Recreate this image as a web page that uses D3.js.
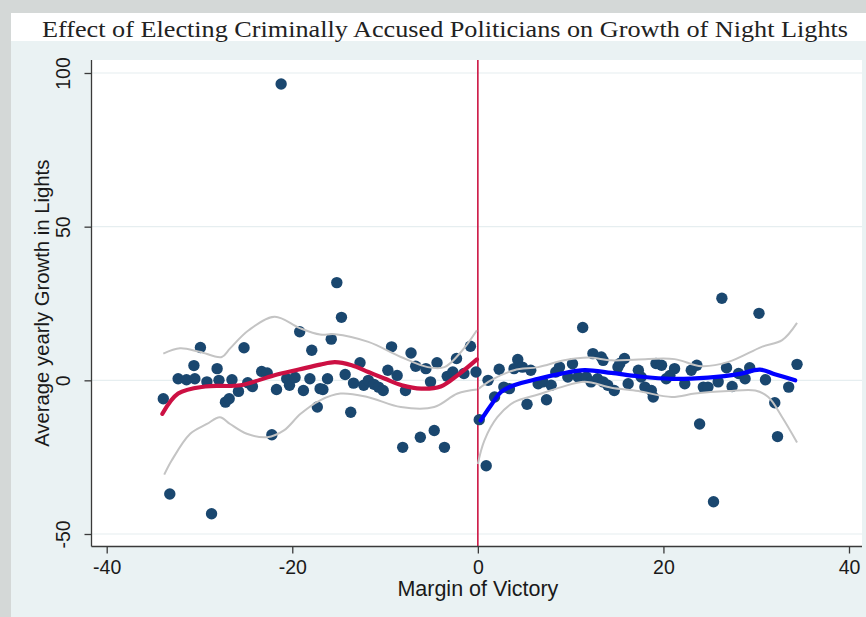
<!DOCTYPE html>
<html>
<head>
<meta charset="utf-8">
<script src="https://cdn.jsdelivr.net/npm/d3@7"></script>
<style>
  html, body { margin: 0; padding: 0; background: #d4d8d7; }
  svg { display: block; }
</style>
</head>
<body>
<svg id="chart" width="866" height="617"></svg>
<script>
// Margin of victory (x) vs average yearly growth in night lights (y)
const titleText = "Effect of Electing Criminally Accused Politicians on Growth of Night Lights";
const xTitle = "Margin of Victory";
const yTitle = "Average yearly Growth in Lights";
const xTicks = [-40, -20, 0, 20, 40];
const yTicks = [-50, 0, 50, 100];

// Constituency-level observations: [margin, growth]
const scatterPoints = [
  [-33.9, -6], [-33.2, -37], [-28.7, -43.4], [-32.3, 0.5], [-31.4, 0.2], [-30.5, 0.5],
  [-30.6, 4.8], [-29.9, 10.7], [-29.2, -0.5], [-28.1, 3.8], [-27.9, 0], [-27.2, -7.1],
  [-26.8, -6], [-26.5, 0.2], [-25.8, -3.6], [-25.2, 10.6], [-24.8, -0.8], [-24.3, -2],
  [-23.3, 2.9], [-22.7, 2.4], [-22.2, -17.7], [-21.7, -3], [-21.2, 96.4], [-20.6, 0.5],
  [-20.3, -1.6], [-19.7, 0.9], [-19.2, 15.8], [-18.8, -3.3], [-18.1, 0.5], [-17.9, 9.8],
  [-17.3, -8.7], [-17.0, -2.7], [-16.7, -3], [-16.2, 0.5], [-15.8, 13.4], [-15.2, 31.8],
  [-14.7, 20.5], [-14.3, 1.9], [-13.7, -10.4], [-13.4, -0.9], [-12.7, 5.7], [-12.3, -1.6],
  [-11.8, 0], [-11.2, -1.3], [-10.7, -2.2], [-10.2, -3.3], [-9.7, 3.3], [-9.3, 10.9],
  [-8.7, 1.6], [-8.1, -21.8], [-7.8, -3.3], [-7.2, 8.9], [-6.7, 4.6], [-6.2, -18.5],
  [-5.6, 3.8], [-5.1, -0.5], [-4.7, -16.3], [-4.4, 5.7], [-3.6, -21.8], [-3.3, 1.3],
  [-2.7, 2.7], [-2.3, 7.1], [-1.5, 2.2], [-0.8, 11.1], [-0.2, 2.7],
  [0.15, -12.8], [0.9, -27.8], [1.1, 0], [1.8, -5.4], [2.3, 3.6], [2.8, -2.2], [3.4, -2.7],
  [3.9, 3.8], [4.3, 6.8], [4.8, 4.3], [5.3, -7.8], [5.7, 3.3], [6.5, -1.1], [7.0, -0.5],
  [7.4, -6.3], [7.9, -1.6], [8.4, 2.7], [8.8, 4.3], [9.7, 1.1], [10.2, 5.4], [10.8, 1.1],
  [11.3, 17.2], [11.7, 1.1], [12.2, -0.5], [12.4, 8.7], [12.9, 0.5], [13.3, 7.6],
  [13.5, -0.5], [13.5, 6.5], [14.0, -1.6], [14.7, -3.3], [15.1, 4.3], [15.3, 5.5],
  [15.8, 7.1], [16.2, -1.1], [17.3, 3.3], [17.6, 1.1], [18.0, -2.2], [18.7, -3.3],
  [18.9, -5.4], [19.2, 5.5], [19.8, 4.9], [20.3, 0.5], [20.7, 1.6], [21.2, 3.8],
  [22.3, -1.1], [23.0, 3.3], [23.6, 4.9], [23.9, -14.2], [24.3, -2.2], [24.8, -2.2],
  [25.4, -39.5], [25.9, -0.5], [26.3, 26.7], [26.8, 4.1], [27.4, -2.0], [28.1, 2.2],
  [28.8, 0.5], [29.3, 4.1], [30.3, 21.8], [31.0, 0.2], [32.0, -7.3], [32.3, -18.3],
  [33.5, -2.2], [34.4, 5.2]
];

// Local polynomial fit, left of the cutoff (criminally accused lost)
const leftFit = [
  [-34.0, -10.9], [-32.3, -4.3], [-29.4, -2.0], [-25.6, -1.6], [-22.0, 1.6], [-19.3, 3.5],
  [-17.0, 5.1], [-15.4, 5.9], [-13.6, 4.9], [-11.8, 2.7], [-10.0, 0.5], [-8.2, -1.6],
  [-6.1, -2.7], [-4.0, -2.0], [-2.2, 1.6], [-0.1, 6.8]
];
const leftUpper = [
  [-33.9, 8.7], [-32.1, 10.4], [-30.0, 9.3], [-27.6, 7.6], [-26.7, 10.4], [-24.7, 16.3],
  [-21.9, 20.7], [-19.2, 17.0], [-17.0, 14.9], [-15.4, 15.0], [-11.8, 12.5], [-8.3, 7.6],
  [-5.4, 4.3], [-3.6, 4.3], [-1.8, 9.3], [-0.1, 16.3]
];
const leftLower = [
  [-33.8, -30.7], [-33.0, -26.1], [-31.0, -17.4], [-29.2, -14.2], [-27.8, -12.0],
  [-26.7, -14.2], [-24.9, -17.4], [-22.7, -18.5], [-20.9, -16.3], [-19.1, -10.9],
  [-17.0, -6.5], [-14.8, -4.3], [-11.9, -5.4], [-8.3, -8.7], [-4.7, -8.7], [-2.2, -4.3],
  [-0.1, -3.0]
];

// Local polynomial fit, right of the cutoff (criminally accused won)
const rightFit = [
  [0.3, -13.1], [1.4, -8.2], [2.5, -3.8], [3.9, -1.6], [6.5, 0.5], [9.0, 2.2],
  [11.5, 3.3], [14.4, 2.4], [17.3, 1.3], [20.9, 0.5], [24.8, 0.9], [28.1, 2.0],
  [30.4, 3.5], [32.0, 2.0], [34.2, 0]
];
const rightUpper = [
  [0.1, -2.7], [1.4, 0], [3.9, 3.3], [6.5, 4.3], [9.3, 6.5], [11.9, 7.4], [14.4, 6.5],
  [17.3, 6.8], [21.2, 6.9], [24.1, 4.6], [27.0, 6.0], [30.6, 10.9], [32.8, 13.1], [34.4, 18.7]
];
const rightLower = [
  [0.0, -27.2], [0.7, -19.6], [2.1, -12.0], [3.9, -7.1], [6.5, -4.6], [9.0, -2.2],
  [11.5, -0.5], [14.4, -2.4], [17.3, -3.5], [20.9, -5.4], [23.4, -4.3], [27.0, -3.5],
  [29.9, -3.3], [31.3, -5.4], [32.8, -12.0], [34.4, -20.2]
];

const svg = d3.select("#chart");
const W = 866, H = 617;

// Frame: grey border, white title band, light graph background
svg.append("rect").attr("x", 0).attr("y", 0).attr("width", W).attr("height", H).attr("fill", "#d4d8d7");
svg.append("rect").attr("x", 11).attr("y", 13).attr("width", W - 11).attr("height", H - 13).attr("fill", "#eaf2f3");
svg.append("rect").attr("x", 11).attr("y", 13).attr("width", W - 11).attr("height", 28).attr("fill", "#ffffff");

const plot = { left: 91.5, right: 862, top: 60, bottom: 546.5 };

svg.append("rect")
  .attr("x", plot.left).attr("y", plot.top)
  .attr("width", plot.right - plot.left).attr("height", plot.bottom - plot.top)
  .attr("fill", "#ffffff");

const x = d3.scaleLinear().domain([-40, 40]).range([106.7, 849]);
const y = d3.scaleLinear().domain([-50, 100]).range([534, 73]);

// Horizontal grid lines
svg.append("g").selectAll("line").data(yTicks).join("line")
  .attr("x1", plot.left).attr("x2", plot.right)
  .attr("y1", d => y(d)).attr("y2", d => y(d))
  .attr("stroke", "#e6eef0").attr("stroke-width", 1.2);

// Cutoff line at zero margin
svg.append("line")
  .attr("x1", x(0)).attr("x2", x(0))
  .attr("y1", plot.top).attr("y2", plot.bottom)
  .attr("stroke", "#cc1543").attr("stroke-width", 1.6);

// Scatter
svg.append("g").selectAll("circle").data(scatterPoints).join("circle")
  .attr("cx", d => x(d[0])).attr("cy", d => y(d[1]))
  .attr("r", 5.7)
  .attr("fill", "#1a476f");

const line = d3.line().x(d => x(d[0])).y(d => y(d[1])).curve(d3.curveCatmullRom.alpha(0.5));

// Confidence bands
[leftUpper, leftLower, rightUpper, rightLower].forEach(arr => {
  svg.append("path").attr("d", line(arr))
    .attr("fill", "none").attr("stroke", "#c4c4c4").attr("stroke-width", 2);
});

// Fitted lines
svg.append("path").attr("d", line(leftFit))
  .attr("fill", "none").attr("stroke", "#cc1043").attr("stroke-width", 4.2)
  .attr("stroke-linecap", "round");
svg.append("path").attr("d", line(rightFit))
  .attr("fill", "none").attr("stroke", "#0000ff").attr("stroke-width", 4.2)
  .attr("stroke-linecap", "round");

// Axes
const axisColor = "#3a3a3a";
const gx = svg.append("g").attr("transform", `translate(0,${plot.bottom})`)
  .call(d3.axisBottom(x).tickValues(xTicks).tickSize(7).tickFormat(d3.format("d")));
gx.select(".domain").remove();
gx.selectAll(".tick line").attr("stroke", axisColor).attr("stroke-width", 1.3);
gx.selectAll(".tick text")
  .attr("y", 27).attr("dy", 0)
  .attr("font-family", "Arial, 'Liberation Sans', sans-serif").attr("font-size", 19.5)
  .attr("fill", "#1a1a1a")
  .text(d => (d < 0 ? "-" + Math.abs(d) : d));

const gy = svg.append("g").attr("transform", `translate(${plot.left},0)`)
  .call(d3.axisLeft(y).tickValues(yTicks).tickSize(7).tickFormat(d3.format("d")));
gy.select(".domain").remove();
gy.selectAll(".tick line").attr("stroke", axisColor).attr("stroke-width", 1.3);
gy.selectAll(".tick text")
  .attr("transform", "rotate(-90)")
  .attr("x", 0).attr("y", -22).attr("dy", 0)
  .attr("text-anchor", "middle")
  .attr("font-family", "Arial, 'Liberation Sans', sans-serif").attr("font-size", 19.5)
  .attr("fill", "#1a1a1a")
  .text(d => (d < 0 ? "-" + Math.abs(d) : d));

// Axis lines
svg.append("line")
  .attr("x1", plot.left).attr("x2", plot.left).attr("y1", plot.top).attr("y2", plot.bottom)
  .attr("stroke", axisColor).attr("stroke-width", 1.3);
svg.append("line")
  .attr("x1", plot.left).attr("x2", plot.right).attr("y1", plot.bottom).attr("y2", plot.bottom)
  .attr("stroke", axisColor).attr("stroke-width", 1.3);

// Axis titles
svg.append("text")
  .attr("x", (x(-40) + x(40)) / 2).attr("y", 596)
  .attr("text-anchor", "middle")
  .attr("font-family", "Arial, 'Liberation Sans', sans-serif").attr("font-size", 21.5)
  .attr("fill", "#1a1a1a")
  .text(xTitle);
svg.append("text")
  .attr("transform", `translate(49,${(plot.top + plot.bottom) / 2}) rotate(-90)`)
  .attr("text-anchor", "middle")
  .attr("font-family", "Arial, 'Liberation Sans', sans-serif").attr("font-size", 20.3)
  .attr("fill", "#1a1a1a")
  .text(yTitle);

// Title
svg.append("text")
  .attr("x", 42).attr("y", 36.5)
  .attr("font-family", "'Liberation Serif', 'DejaVu Serif', serif").attr("font-size", 24)
  .attr("fill", "#222")
  .attr("textLength", 806).attr("lengthAdjust", "spacingAndGlyphs")
  .text(titleText);
</script>
</body>
</html>
